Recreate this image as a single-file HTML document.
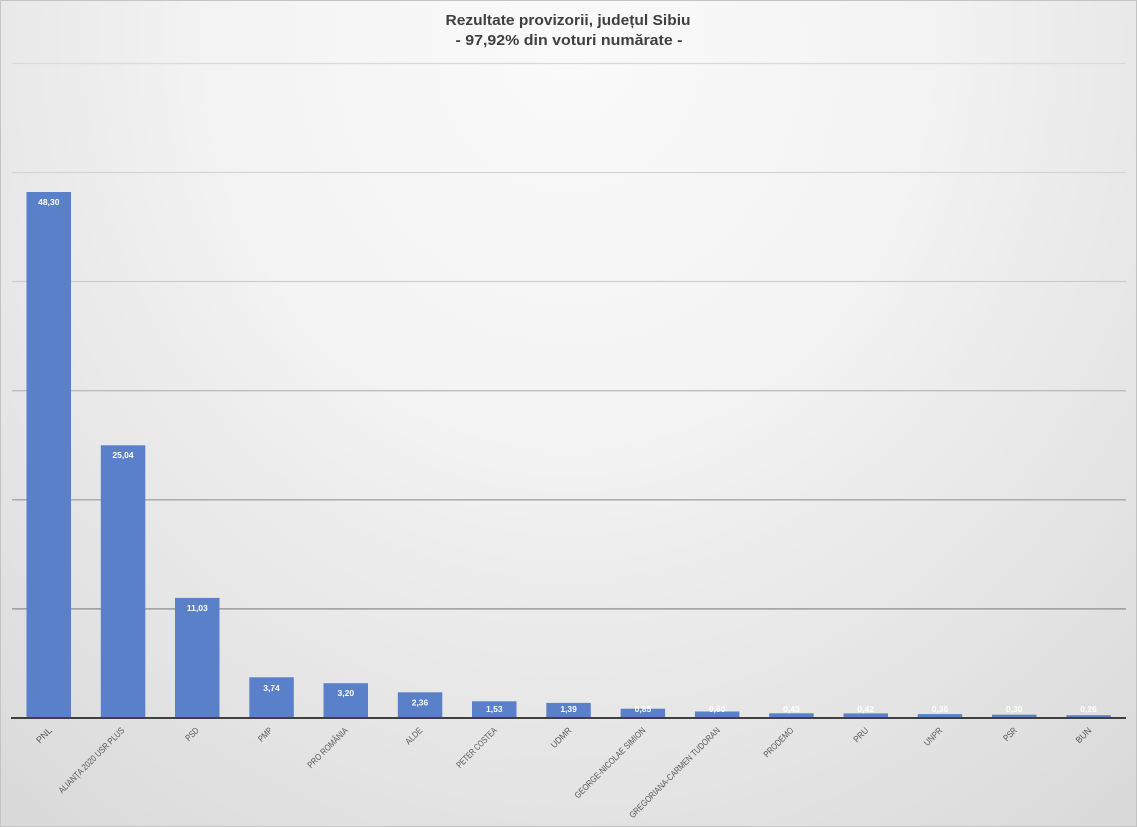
<!DOCTYPE html>
<html><head><meta charset="utf-8"><style>
html,body{margin:0;padding:0;}
body{width:1137px;height:827px;overflow:hidden;}
.bg{position:absolute;left:0;top:0;width:1135px;height:825px;border:1px solid #c4c4c4;
background:radial-gradient(ellipse 900px 1000px at 50% 5%, #fafafa 0%, #f3f3f3 40%, #ececec 55%, #e4e4e4 75%, #d9d9d9 100%);}
svg{position:absolute;left:0;top:0;}
</style></head><body>
<div class="bg"></div>
<svg width="1137" height="827" xmlns="http://www.w3.org/2000/svg" font-family="'Liberation Sans', sans-serif">
<g fill="#404040" font-weight="bold" font-size="15" text-anchor="middle">
<text x="568" y="25" textLength="245" lengthAdjust="spacingAndGlyphs">Rezultate provizorii, județul Sibiu</text>
<text x="569" y="45" textLength="227" lengthAdjust="spacingAndGlyphs">- 97,92% din voturi numărate -</text>
</g>
<g stroke-width="1.3">
<line x1="12" x2="1126" y1="63.5" y2="63.5" stroke="#dadada"/>
<line x1="12" x2="1126" y1="172.5" y2="172.5" stroke="#d5d5d5"/>
<line x1="12" x2="1126" y1="281.5" y2="281.5" stroke="#cdcdcd"/>
<line x1="12" x2="1126" y1="390.7" y2="390.7" stroke="#bcbcbc"/>
<line x1="12" x2="1126" y1="499.8" y2="499.8" stroke="#a5a5a5"/>
<line x1="12" x2="1126" y1="608.9" y2="608.9" stroke="#8e8e8e"/>
</g>
<g fill="#5a80c9">
<rect x="26.5" y="192" width="44.5" height="526"/>
<rect x="100.8" y="445.3" width="44.5" height="272.7"/>
<rect x="175" y="597.9" width="44.5" height="120.1"/>
<rect x="249.3" y="677.3" width="44.5" height="40.7"/>
<rect x="323.5" y="683.2" width="44.5" height="34.8"/>
<rect x="397.8" y="692.3" width="44.5" height="25.7"/>
<rect x="472" y="701.3" width="44.5" height="16.7"/>
<rect x="546.3" y="702.9" width="44.5" height="15.1"/>
<rect x="620.6" y="708.7" width="44.5" height="9.3"/>
<rect x="694.9" y="711.5" width="44.5" height="6.5"/>
<rect x="769.2" y="713.3" width="44.5" height="4.7"/>
<rect x="843.5" y="713.4" width="44.5" height="4.6"/>
<rect x="917.7" y="714.1" width="44.5" height="3.9"/>
<rect x="992" y="714.7" width="44.5" height="3.3"/>
<rect x="1066.3" y="715.2" width="44.5" height="2.8"/>
</g>
<line x1="11" x2="1126" y1="718" y2="718" stroke="#404040" stroke-width="2"/>
<g fill="#ffffff" font-weight="bold" font-size="8.5" text-anchor="middle">
<text x="48.8" y="205">48,30</text>
<text x="123" y="458">25,04</text>
<text x="197.3" y="611">11,03</text>
<text x="271.5" y="691">3,74</text>
<text x="345.8" y="696">3,20</text>
<text x="420" y="705.5">2,36</text>
<text x="494.3" y="712">1,53</text>
<text x="568.6" y="712">1,39</text>
<text x="642.9" y="712">0,85</text>
<text x="717.1" y="712">0,60</text>
<text x="791.4" y="712">0,43</text>
<text x="865.7" y="712">0,42</text>
<text x="940" y="712">0,36</text>
<text x="1014.2" y="712">0,30</text>
<text x="1088.5" y="712">0,26</text>
</g>
<g fill="#595959" font-size="9" text-anchor="end">
<text transform="translate(52.5,731) rotate(-45)" textLength="18" lengthAdjust="spacingAndGlyphs">PNL</text>
<text transform="translate(125,731) rotate(-45)" textLength="89" lengthAdjust="spacingAndGlyphs">ALIANȚA 2020 USR PLUS</text>
<text transform="translate(199.5,731) rotate(-45)" textLength="15" lengthAdjust="spacingAndGlyphs">PSD</text>
<text transform="translate(273,731) rotate(-45)" textLength="16" lengthAdjust="spacingAndGlyphs">PMP</text>
<text transform="translate(348.5,731) rotate(-45)" textLength="53" lengthAdjust="spacingAndGlyphs">PRO ROMÂNIA</text>
<text transform="translate(423,731) rotate(-45)" textLength="20" lengthAdjust="spacingAndGlyphs">ALDE</text>
<text transform="translate(497.5,731) rotate(-45)" textLength="53" lengthAdjust="spacingAndGlyphs">PETER COSTEA</text>
<text transform="translate(572,731) rotate(-45)" textLength="25" lengthAdjust="spacingAndGlyphs">UDMR</text>
<text transform="translate(646,731) rotate(-45)" textLength="96" lengthAdjust="spacingAndGlyphs">GEORGE-NICOLAE SIMION</text>
<text transform="translate(720.5,731) rotate(-45)" textLength="124" lengthAdjust="spacingAndGlyphs">GREGORIANA-CARMEN TUDORAN</text>
<text transform="translate(794,731) rotate(-45)" textLength="38" lengthAdjust="spacingAndGlyphs">PRODEMO</text>
<text transform="translate(869,731) rotate(-45)" textLength="17" lengthAdjust="spacingAndGlyphs">PRU</text>
<text transform="translate(943,731) rotate(-45)" textLength="22" lengthAdjust="spacingAndGlyphs">UNPR</text>
<text transform="translate(1017.5,731) rotate(-45)" textLength="15" lengthAdjust="spacingAndGlyphs">PSR</text>
<text transform="translate(1092,731) rotate(-45)" textLength="18" lengthAdjust="spacingAndGlyphs">BUN</text>
</g>
</svg>
</body></html>
